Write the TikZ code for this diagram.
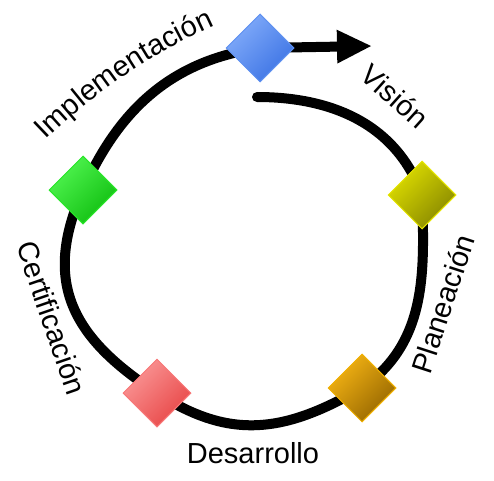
\documentclass[tikz,border=0pt]{standalone}
\usepackage{fontspec}
\setmainfont{Liberation Sans}
\usetikzlibrary{shapes.geometric,arrows.meta,backgrounds,decorations.text}

\definecolor{blueedge}{RGB}{95,145,240}
\definecolor{bluelight}{RGB}{130,172,250}
\definecolor{bluedark}{RGB}{60,115,228}
\definecolor{yellowedge}{RGB}{230,230,0}
\definecolor{yellowlight}{RGB}{222,222,0}
\definecolor{yellowdark}{RGB}{135,135,0}
\definecolor{orangeedge}{RGB}{240,176,0}
\definecolor{orangelight}{RGB}{244,180,20}
\definecolor{orangedark}{RGB}{150,102,0}
\definecolor{rededge}{RGB}{248,120,120}
\definecolor{redlight}{RGB}{250,150,150}
\definecolor{reddark}{RGB}{232,70,70}
\definecolor{greenedge}{RGB}{40,230,40}
\definecolor{greenlight}{RGB}{80,245,80}
\definecolor{greendark}{RGB}{16,190,16}

\begin{document}
\begin{tikzpicture}[x=1pt,y=1pt,
    phase/.style n args={3}{diamond,minimum size=68pt,inner sep=0pt,line width=1pt,draw=#1,top color=#2,bottom color=#3,shading angle=45},
    loopline/.style={line width=10pt,black,line cap=round},
    phasename/.style={font=\fontsize{29pt}{29pt}\selectfont}]
               \useasboundingbox (0,0) rectangle (494,480);
               % diamonds round the loop
               \node [phase={blueedge}{bluelight}{bluedark}] (vision) at (260,432) {};
               \node [phase={yellowedge}{yellowlight}{yellowdark}] (plan) at (422,285) {};
               \node [phase={orangeedge}{orangelight}{orangedark}] (dev) at (362,92) {};
               \node [phase={rededge}{redlight}{reddark}] (cert) at (157,87) {};
               \node [phase={greenedge}{greenlight}{greendark}] (impl) at (83,290) {};
               \coordinate (start) at (257,383);
               \coordinate (tip) at (372,434);
               % loop behind the diamonds
               \begin{scope}[on background layer]
               \draw [loopline] (start) to[out=0,in=110] (plan.center)
                     to[out=-88,in=35] (dev.center)
                     to[out=-150,in=-33,looseness=1.1] (cert.center)
                     to[out=147,in=-114,looseness=1.2] (impl.center)
                     to[out=66,in=-172] (vision.center);
               \draw [loopline,-{Triangle[length=35pt,width=31pt]}] (vision.center) -- (tip);
               \end{scope}
               % labels
               \path [decorate,decoration={text along path,text={|\fontsize{29pt}{29pt}\selectfont|Implementación}}]
                     (46,340) arc[start angle=134,end angle=113,radius=595];
               \node [phasename,rotate=-42] (visionlabel) at (395,384) {Visión};
               \node [phasename,rotate=72] (planlabel) at (443,176) {Planeación};
               \node [phasename] (devlabel) at (253,27) {Desarrollo};
               \node [phasename,rotate=-71] (certlabel) at (52,162) {Certificación};
\end{tikzpicture}
\end{document}
